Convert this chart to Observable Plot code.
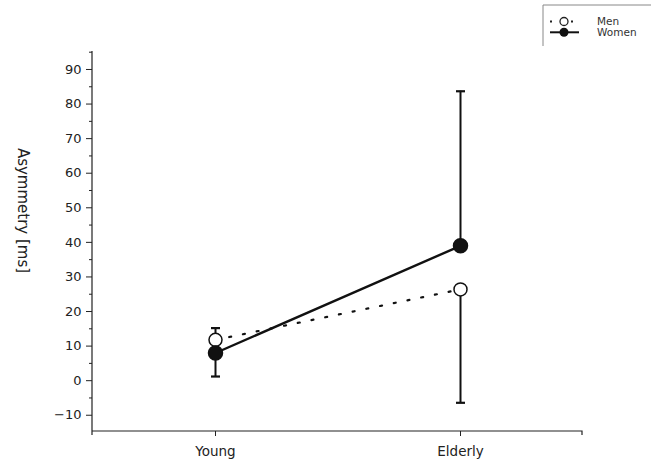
<!DOCTYPE html>
<html><head><meta charset="utf-8">
<script src="https://cdn.jsdelivr.net/npm/d3@7"></script>
<script src="https://cdn.jsdelivr.net/npm/@observablehq/plot@0.6"></script>
<style>body{margin:0;background:#fff}#chart{width:652px;height:465px}</style>
</head><body><div id="chart"></div>
<script>
const groups = ["Young", "Elderly"];
const seriesNames = ["Men", "Women"];
const menMean = [11.8, 26.4];
const menErrEnd = [15.2, -6.4];
const womenMean = [8.0, 39.0];
const womenErrEnd = [1.2, 83.7];
const yTicks = [-10, 0, 10, 20, 30, 40, 50, 60, 70, 80, 90];
const yMinorTicks = [-5, 5, 15, 25, 35, 45, 55, 65, 75, 85, 95];
const yDomain = [-14.7, 95.2];
const yLabel = "Asymmetry [ms]";

const men = groups.map((g, i) => ({group: g, mean: menMean[i], err: menErrEnd[i]}));
const women = groups.map((g, i) => ({group: g, mean: womenMean[i], err: womenErrEnd[i]}));

const cap = {draw(ctx) { ctx.moveTo(-4.5, 0); ctx.lineTo(4.5, 0); }};

function axisLines(index, scales, values, dim) {
  const g = d3.create("svg:g").attr("stroke", "#222").attr("stroke-width", 1.2).attr("fill", "none");
  const x0 = dim.marginLeft, x1 = dim.width - dim.marginRight;
  const y0 = dim.marginTop, y1 = dim.height - dim.marginBottom;
  g.append("path").attr("d", `M${x0},${y0}V${y1}H${x1}v4M${x0},${y1}v4`);
  return g.node();
}

function legend(index, scales, values, dim) {
  const g = d3.create("svg:g").attr("font-family", "DejaVu Sans, sans-serif").attr("font-size", 10.5).attr("text-anchor", "start");
  const bx = dim.width - 109, by = 5;
  g.append("path").attr("d", `M${bx},${by + 41}V${by}H${dim.width - 1}`).attr("stroke", "#888").attr("fill", "none");
  const y1 = 21.5, y2 = 32.3, cx = bx + 21;
  // Men
  g.append("rect").attr("x", bx + 7).attr("y", y1 - 1).attr("width", 2).attr("height", 2).attr("fill", "#222");
  g.append("rect").attr("x", bx + 28).attr("y", y1 - 1).attr("width", 2).attr("height", 2).attr("fill", "#222");
  g.append("circle").attr("cx", cx).attr("cy", y1).attr("r", 4).attr("fill", "#fff").attr("stroke", "#222").attr("stroke-width", 1.3);
  g.append("text").attr("x", bx + 54).attr("y", y1).attr("dy", "0.35em").attr("fill", "#333").text(seriesNames[0]);
  // Women
  g.append("line").attr("x1", bx + 7).attr("x2", bx + 36).attr("y1", y2).attr("y2", y2).attr("stroke", "#111").attr("stroke-width", 2);
  g.append("circle").attr("cx", cx).attr("cy", y2).attr("r", 4.5).attr("fill", "#111");
  g.append("text").attr("x", bx + 54).attr("y", y2).attr("dy", "0.35em").attr("fill", "#333").text(seriesNames[1]);
  return g.node();
}

const chart = Plot.plot({
  width: 652, height: 465,
  marginLeft: 92, marginRight: 70, marginTop: 51, marginBottom: 34,
  style: {fontFamily: "DejaVu Sans, sans-serif", fontSize: "13px", color: "#222", background: "#fff"},
  x: {type: "point", domain: groups, padding: 0.5, label: null},
  y: {domain: yDomain, label: null},
  marks: [
    Plot.axisY(yMinorTicks, {tickSize: 3, tickFormat: () => "", stroke: "#222"}),
    Plot.axisY(yTicks, {tickSize: 6, tickPadding: 5, fontSize: 13, fill: "#222"}),
    Plot.axisX({tickSize: 5, tickPadding: 10, fontSize: 13.5, fill: "#222"}),
    axisLines,
    Plot.text([yLabel], {frameAnchor: "left", textAnchor: "middle", rotate: 90, dx: -70, dy: -31, fontSize: 15, fill: "#222"}),
    // series lines
    Plot.line(women, {x: "group", y: "mean", stroke: "#111", strokeWidth: 2.4}),
    Plot.line(men, {x: "group", y: "mean", stroke: "#111", strokeWidth: 2.2, strokeDasharray: "2 12"}),
    // error bars
    Plot.ruleX(women, {x: "group", y1: "mean", y2: "err", stroke: "#111", strokeWidth: 2}),
    Plot.ruleX(men, {x: "group", y1: "mean", y2: "err", stroke: "#111", strokeWidth: 2}),
    Plot.dot(women, {x: "group", y: "err", symbol: cap, stroke: "#111", strokeWidth: 2.2}),
    Plot.dot(men, {x: "group", y: "err", symbol: cap, stroke: "#111", strokeWidth: 2.2}),
    // points
    Plot.dot(men, {x: "group", y: "mean", r: 6.5, fill: "#fff", stroke: "#111", strokeWidth: 1.5}),
    Plot.dot(women, {x: "group", y: "mean", r: 7, fill: "#111", stroke: "#111"}),
    legend
  ]
});
document.getElementById("chart").append(chart);
</script></body></html>
